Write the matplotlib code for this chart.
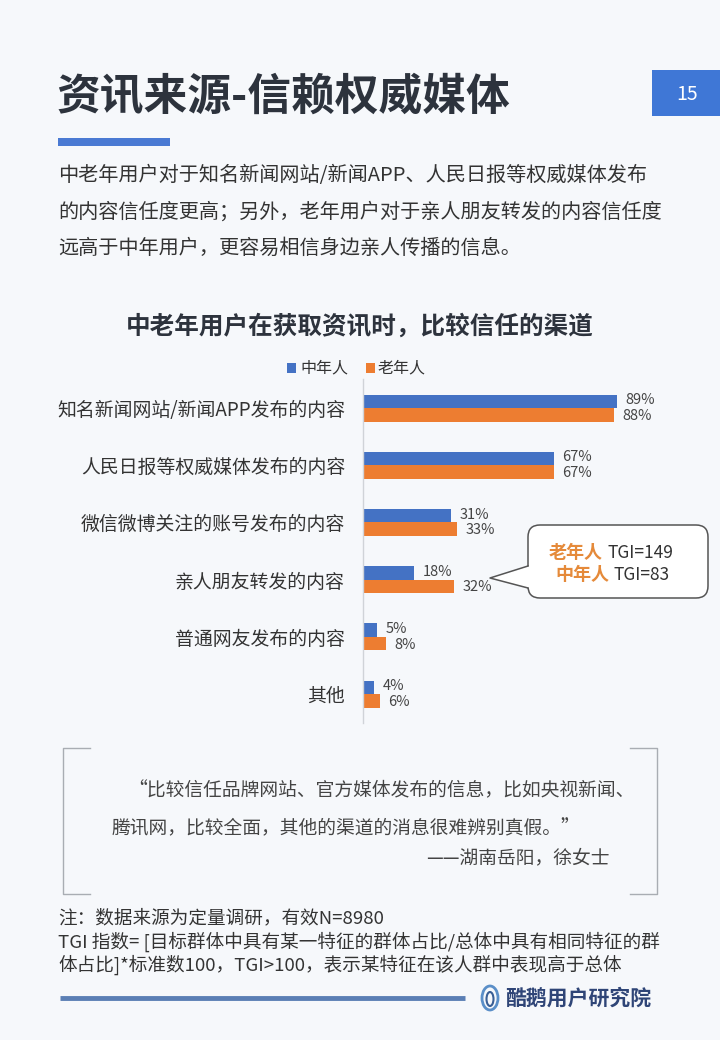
import matplotlib
matplotlib.use("Agg")
import matplotlib.pyplot as plt
from matplotlib.patches import FancyBboxPatch, Polygon, Rectangle, Ellipse
from matplotlib.lines import Line2D

plt.rcParams['font.family'] = ['Noto Sans CJK SC', 'DejaVu Sans']

# ---------------- data ----------------
categories = ["知名新闻网站/新闻APP发布的内容", "人民日报等权威媒体发布的内容",
              "微信微博关注的账号发布的内容", "亲人朋友转发的内容",
              "普通网友发布的内容", "其他"]
middle_aged = [89, 67, 31, 18, 5, 4]
elderly = [88, 67, 33, 32, 8, 6]
series_names = ["中年人", "老年人"]

title = "资讯来源-信赖权威媒体"
page_no = "15"
intro_lines = ["中老年用户对于知名新闻网站/新闻APP、人民日报等权威媒体发布",
               "的内容信任度更高；另外，老年用户对于亲人朋友转发的内容信任度",
               "远高于中年用户，更容易相信身边亲人传播的信息。"]
chart_title = "中老年用户在获取资讯时，比较信任的渠道"
callout = [("老年人", "TGI=149"), ("中年人", "TGI=83")]
quote_lines = ["“比较信任品牌网站、官方媒体发布的信息，比如央视新闻、",
               "腾讯网，比较全面，其他的渠道的消息很难辨别真假。”",
               "——湖南岳阳，徐女士"]
note_lines = ["注：数据来源为定量调研，有效N=8980",
              "TGI 指数= [目标群体中具有某一特征的群体占比/总体中具有相同特征的群",
              "体占比]*标准数100，TGI>100，表示某特征在该人群中表现高于总体"]
logo_text = "酷鹅用户研究院"

BLUE = "#4472c4"
ORANGE = "#ed7d31"
BG = "#f6f8fb"
DARK = "#333333"

W, H = 720, 1040
fig = plt.figure(figsize=(W / 100, H / 100), dpi=100, facecolor=BG)

# overlay axes in pixel coordinates for page decorations
deco = fig.add_axes([0, 0, 1, 1], zorder=0)
deco.set_xlim(0, W)
deco.set_ylim(H, 0)
deco.axis("off")
deco.patch.set_alpha(0)

# title
deco.text(57, 97, title, fontsize=31.5, fontweight="bold", color="#2d333d",
          va="center", ha="left")
# page number box
deco.add_patch(Rectangle((652, 70), 68, 46, facecolor="#3f77d6", edgecolor="none"))
deco.text(687, 94, page_no, fontsize=14, color="white", ha="center", va="center")
# blue underline
deco.add_patch(Rectangle((58, 138), 112, 8, facecolor="#4a7ad3", edgecolor="none"))

# intro paragraph
for i, line in enumerate(intro_lines):
    deco.text(58, 176 + 36 * i, line, fontsize=14.5, color=DARK, va="center", ha="left")

# chart title
deco.text(360, 326, chart_title, fontsize=17.7, fontweight="bold", color="#2d333d",
          ha="center", va="center")

# legend
deco.add_patch(Rectangle((287, 363), 9, 10, facecolor=BLUE, edgecolor="none"))
deco.text(300, 368, series_names[0], fontsize=11.5, color=DARK, va="center", ha="left")
deco.add_patch(Rectangle((366, 363), 9, 10, facecolor=ORANGE, edgecolor="none"))
deco.text(378, 368, series_names[1], fontsize=11.5, color=DARK, va="center", ha="left")

# ---------------- chart ----------------
px_per_pct = 2.854
ax_left, ax_right = 363, 700
row_h = 57.2
first_row = 408
top_px = first_row - row_h / 2
n = len(categories)
ax = fig.add_axes([ax_left / W, 1 - (top_px + n * row_h) / H,
                   (ax_right - ax_left) / W, n * row_h / H], zorder=2)
ax.patch.set_alpha(0)
ax.set_xlim(0, (ax_right - ax_left) / px_per_pct)
ax.set_ylim(n - 0.5, -0.5)
bh = 13.5 / row_h
ys = list(range(n))
ax.barh([y - bh / 2 for y in ys], middle_aged, height=bh, color=BLUE)
ax.barh([y + bh / 2 for y in ys], elderly, height=bh, color=ORANGE)
for y, v in zip(ys, middle_aged):
    ax.annotate(f"{v}%", (v, y - bh / 2), xytext=(6, 0.8), textcoords="offset points",
                va="center", ha="left", fontsize=10.5, color="#444444")
for y, v in zip(ys, elderly):
    ax.annotate(f"{v}%", (v, y + bh / 2), xytext=(6, -0.8), textcoords="offset points",
                va="center", ha="left", fontsize=10.5, color="#444444")
ax.set_yticks(ys)
ax.set_yticklabels(categories, fontsize=13.6, color=DARK)
ax.tick_params(axis="y", length=0, pad=13)
ax.set_xticks([])
for s in ["top", "right", "bottom"]:
    ax.spines[s].set_visible(False)
ax.spines["left"].set_color("#d0d3d8")
ax.spines["left"].set_linewidth(1)

# ---------------- callout ----------------
deco.add_patch(FancyBboxPatch((528, 525), 180, 73,
                              boxstyle="round,pad=0,rounding_size=12",
                              facecolor="white", edgecolor="#555555", linewidth=1.1, zorder=3))
deco.add_patch(Polygon([(529.5, 566), (490, 578), (529.5, 588)], closed=True,
                       facecolor="white", edgecolor="none", zorder=4))
deco.add_line(Line2D([528, 490, 528], [566, 578, 588], color="#555555", linewidth=1.1, zorder=5))
split_x = [603, 609]
for i, (who, tgi) in enumerate(callout):
    yy = 553 + 22 * i
    deco.text(split_x[i], yy, who, fontsize=13, fontweight="bold", color="#e58a3a",
              ha="right", va="center", zorder=6)
    deco.text(split_x[i] + 5, yy, tgi, fontsize=12.5, color="#333333",
              ha="left", va="center", zorder=6)

# ---------------- quote box ----------------
gc = "#a9adb3"
deco.add_line(Line2D([90, 63, 63, 90], [748, 748, 894, 894], color=gc, linewidth=1))
deco.add_line(Line2D([630, 657, 657, 630], [748, 748, 894, 894], color=gc, linewidth=1))
deco.text(128, 791, quote_lines[0], fontsize=13.5, color="#444444", style="italic",
          ha="left", va="center")
deco.text(112, 829, quote_lines[1], fontsize=13.5, color="#444444", style="italic",
          ha="left", va="center")
deco.text(610, 858, quote_lines[2], fontsize=13.5, color="#444444", style="italic",
          ha="right", va="center")

# notes
for i, line in enumerate(note_lines):
    deco.text(58, 918 + 23.5 * i, line, fontsize=13.4, color=DARK, ha="left", va="center")

# footer line and logo
deco.add_line(Line2D([60, 465], [998, 998], color="#5b7fb5", linewidth=3.5,
                     solid_capstyle="butt"))
deco.add_patch(Ellipse((490, 998), 16, 24, facecolor="none", edgecolor="#5b8fc8", linewidth=2))
deco.add_patch(Ellipse((490, 999), 7, 14, facecolor="none", edgecolor="#3a5f95", linewidth=1.5))
deco.text(505, 998, logo_text, fontsize=15, fontweight="bold", color="#2f4577",
          ha="left", va="center")

fig.savefig("out.png", dpi=100, facecolor=BG)
